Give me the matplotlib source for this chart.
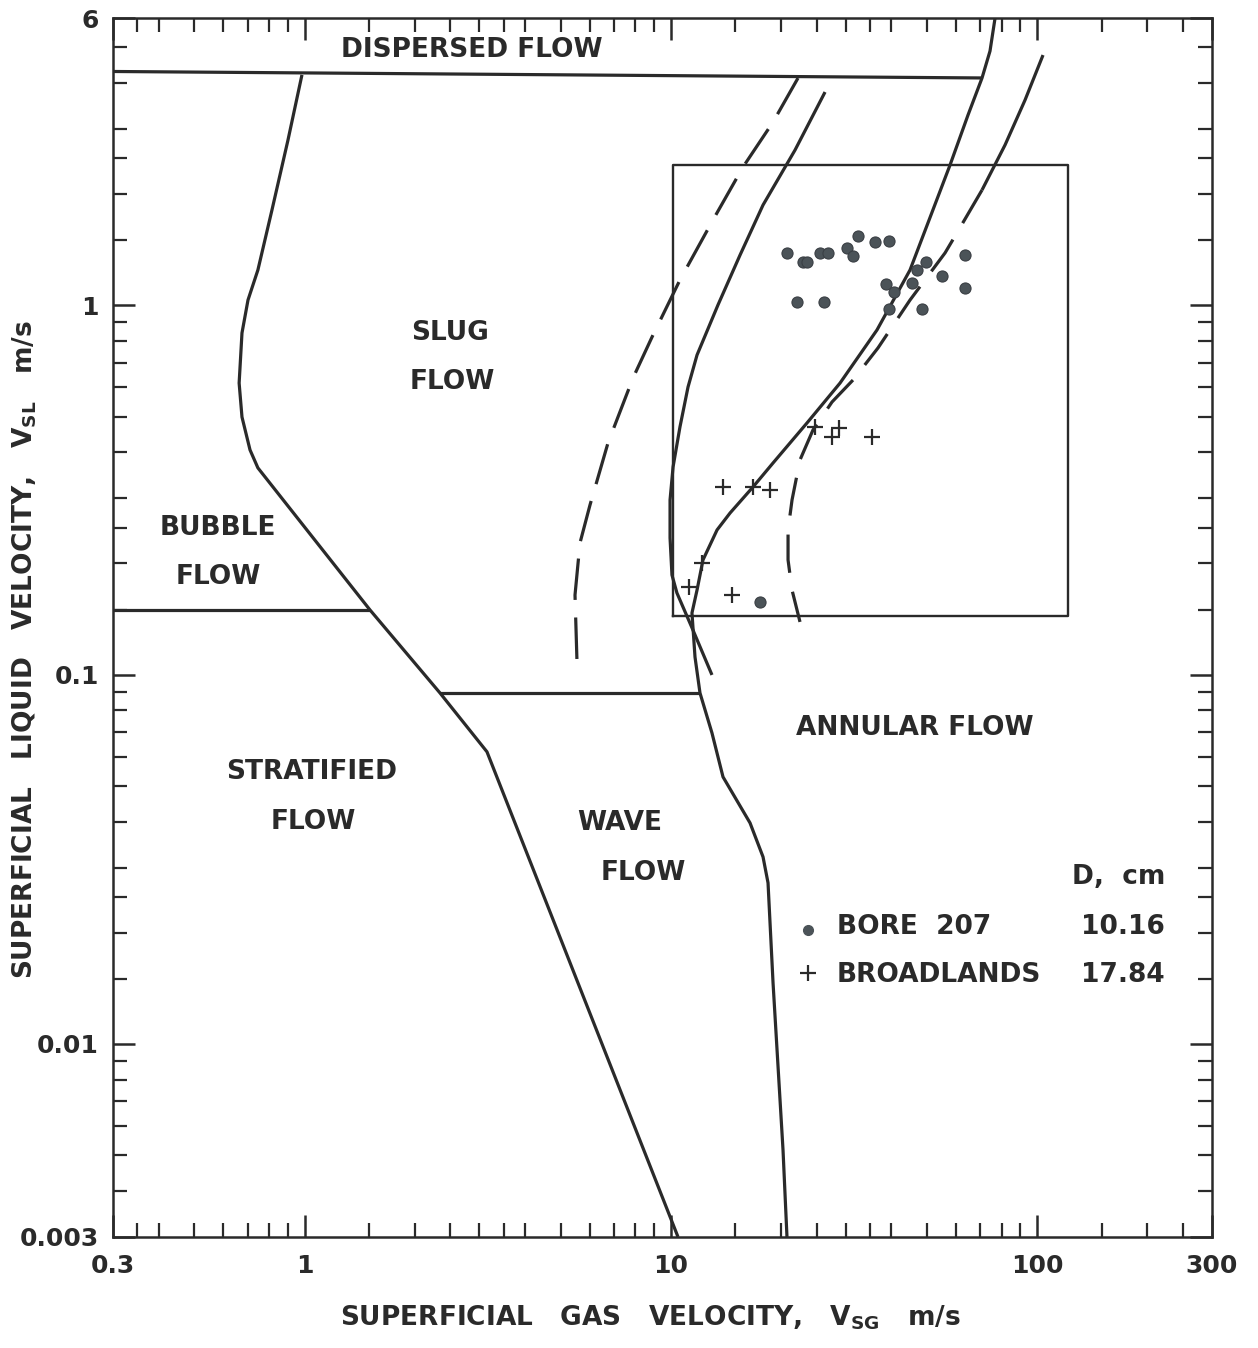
import numpy as np
import matplotlib.pyplot as plt
from matplotlib.ticker import FixedLocator, NullFormatter

# flow pattern boundaries, superficial gas velocity (m/s) vs liquid velocity (m/s)
dispersed_vsg = [0.3, 70.7]
dispersed_vsl = [4.3, 4.13]

bubble_vsg = [0.3, 1.51]
bubble_vsl = [0.15, 0.15]

wave_vsg = [2.34, 12.0]
wave_vsl = [0.089, 0.089]

slug_vsg = [0.984, 0.901, 0.815, 0.746, 0.701, 0.675, 0.663, 0.675, 0.710, 0.746,
            1.509, 2.343, 3.148, 10.46]
slug_vsl = [4.21, 2.80, 1.813, 1.247, 1.034, 0.842, 0.616, 0.4985, 0.406, 0.363,
            0.1497, 0.0892, 0.0618, 0.003]

annular_vsg = [20.75, 20.24, 19.01, 18.42, 17.85, 16.45, 13.88, 12.95, 12.01, 11.64,
               11.42, 11.79, 12.24, 13.37, 14.51, 16.76, 19.01, 23.53, 28.96, 36.54,
               44.97, 57.83, 64.75, 70.70, 74.34, 76.74]
annular_vsl = [0.003, 0.00516, 0.01463, 0.02729, 0.03209, 0.03966, 0.05284, 0.0695,
               0.0892, 0.1116, 0.1469, 0.1695, 0.2045, 0.2465, 0.274, 0.3223, 0.3743,
               0.4803, 0.616, 0.858, 1.247, 2.40, 3.278, 4.128, 4.884, 6.0]

# transition curves for the two well diameters
inner_vsg = [26.36, 21.83, 17.85, 15.45, 13.45, 11.79, 11.14, 10.59, 10.14, 9.95,
             9.95, 10.07, 10.39, 11.49, 12.95]
inner_vsl = [3.783, 2.635, 1.870, 1.369, 1.003, 0.734, 0.601, 0.4686, 0.365, 0.2972,
             0.2345, 0.1862, 0.1664, 0.1321, 0.0998]

outer_dash_vsg = [22.24, 19.01, 15.74, 13.03, 10.59, 8.885, 7.884, 6.736, 6.016,
                  5.649, 5.475, 5.544]
outer_dash_vsl = [4.128, 3.137, 2.370, 1.703, 1.172, 0.821, 0.636, 0.424, 0.288,
                  0.2273, 0.1643, 0.1082]

right_vsg = [103.75, 92.66, 81.71, 70.70, 60.81, 56.04, 44.97, 36.77, 31.43, 27.54,
             24.44, 22.52, 21.42, 20.89, 20.89, 21.42, 22.52]
right_vsl = [4.764, 3.599, 2.719, 2.053, 1.590, 1.387, 1.034, 0.767, 0.628, 0.5475,
             0.46, 0.3814, 0.2972, 0.2465, 0.2045, 0.1695, 0.1389]
right_solid_n = 4  # first points drawn solid, rest dashed

# field data window
window_vsg = [10.14, 121.4]
window_vsl = [0.144, 2.40]

# Bore 207 (D = 10.16 cm)
bore_vsg = [20.75, 22.95, 23.53, 25.54, 26.85, 30.26, 32.43, 31.43, 36.09, 39.41,
            22.10, 26.19, 38.67, 40.66, 39.41, 45.53, 46.99, 49.72, 55.00, 48.49,
            63.56, 63.56, 17.51]
bore_vsl = [1.387, 1.311, 1.311, 1.387, 1.387, 1.430, 1.541, 1.360, 1.484, 1.494,
            1.021, 1.021, 1.143, 1.087, 0.978, 1.150, 1.247, 1.311, 1.201, 0.978,
            1.369, 1.115, 0.1573]

# Broadlands (D = 17.84 cm)
broad_vsg = [24.75, 28.78, 27.54, 35.41, 13.88, 16.76, 18.65, 12.17, 11.21, 14.69]
broad_vsl = [0.4686, 0.4656, 0.440, 0.440, 0.3223, 0.3223, 0.3163, 0.2006, 0.1727,
             0.1643]

xticks = [0.3, 1, 10, 100, 300]
xticklabels = ['0.3', '1', '10', '100', '300']
yticks = [0.003, 0.01, 0.1, 1, 6]
yticklabels = ['0.003', '0.01', '0.1', '1', '6']

ink = '#2a2a2a'
lw = 2.3

fig = plt.figure(figsize=(12.58, 13.48), dpi=100)
ax = fig.add_axes([0.0898, 0.0824, 0.8736, 0.9042])
ax.set_xscale('log')
ax.set_yscale('log')
ax.set_xlim(0.3, 300)
ax.set_ylim(0.003, 6)

line_kw = dict(color=ink, lw=lw, solid_capstyle='butt', solid_joinstyle='round')
ax.plot(dispersed_vsg, dispersed_vsl, **line_kw)
ax.plot(bubble_vsg, bubble_vsl, **line_kw)
ax.plot(wave_vsg, wave_vsl, **line_kw)
ax.plot(slug_vsg, slug_vsl, **line_kw)
ax.plot(annular_vsg, annular_vsl, **line_kw)
ax.plot(inner_vsg, inner_vsl, **line_kw)
ax.plot(outer_dash_vsg, outer_dash_vsl, color=ink, lw=lw, dashes=(13, 5.5))
ax.plot(right_vsg[:right_solid_n], right_vsl[:right_solid_n], **line_kw)
ax.plot(right_vsg[right_solid_n - 1:], right_vsl[right_solid_n - 1:], color=ink, lw=lw,
        dashes=(12, 6))

wx0, wx1 = window_vsg
wy0, wy1 = window_vsl
ax.plot([wx0, wx1, wx1, wx0, wx0], [wy0, wy0, wy1, wy1, wy0], color=ink, lw=1.7)

ax.plot(bore_vsg, bore_vsl, 'o', ms=8, color='#4b5358', mec='#3a3f44', mew=0.8)
ax.plot(broad_vsg, broad_vsl, '+', ms=12, color=ink, mew=1.6)

# axes, ticks
for s in ax.spines.values():
    s.set_linewidth(1.8)
    s.set_color(ink)
ax.xaxis.set_major_locator(FixedLocator(xticks))
ax.set_xticklabels(xticklabels)
ax.yaxis.set_major_locator(FixedLocator(yticks))
ax.set_yticklabels(yticklabels)

mult_x = [1.5, 2, 2.5, 3, 3.5, 4, 5, 6, 7, 8, 9]
mult_y = [1.5, 2, 2.5, 3, 4, 5, 6, 7, 8, 9]
xminor = [d * m for d in [0.1, 1, 10, 100] for m in mult_x if 0.3 < d * m < 300]
yminor = [d * m for d in [0.001, 0.01, 0.1, 1] for m in mult_y if 0.003 < d * m < 6]
ax.xaxis.set_minor_locator(FixedLocator(xminor))
ax.yaxis.set_minor_locator(FixedLocator(yminor))
ax.xaxis.set_minor_formatter(NullFormatter())
ax.yaxis.set_minor_formatter(NullFormatter())
ax.tick_params(which='both', direction='in', top=True, right=True, color=ink,
               labelcolor=ink, labelsize=18)
ax.tick_params(which='major', length=16, width=1.8)
ax.tick_params(which='minor', length=10, width=1.6)
ax.tick_params(axis='x', which='major', pad=12)
ax.tick_params(axis='y', which='major', pad=10)
for lab in ax.get_xticklabels() + ax.get_yticklabels():
    lab.set_fontweight('semibold')

# region names
txt = dict(transform=ax.transAxes, fontsize=19, fontweight='bold', color=ink,
           ha='center', va='center')
ax.text(0.3267, 0.9737, 'DISPERSED FLOW', **txt)
ax.text(0.3066, 0.7416, 'SLUG', **txt)
ax.text(0.3085, 0.7014, 'FLOW', **txt)
ax.text(0.0955, 0.5816, 'BUBBLE', **txt)
ax.text(0.0955, 0.5414, 'FLOW', **txt)
ax.text(0.1811, 0.3815, 'STRATIFIED', **txt)
ax.text(0.1820, 0.3404, 'FLOW', **txt)
ax.text(0.4613, 0.3396, 'WAVE', **txt)
ax.text(0.4823, 0.2986, 'FLOW', **txt)
ax.text(0.7298, 0.4176, 'ANNULAR FLOW', **txt)

# key
ax.plot([0.6324], [0.2518], 'o', ms=7, color='#4b5358', transform=ax.transAxes)
ax.plot([0.6324], [0.2166], '+', ms=12, mew=1.6, color=ink, transform=ax.transAxes)
key = dict(transform=ax.transAxes, fontsize=19, fontweight='bold', color=ink,
           va='center')
ax.text(0.9572, 0.2953, 'D,  cm', ha='right', **key)
ax.text(0.6588, 0.2543, 'BORE  207', ha='left', **key)
ax.text(0.9572, 0.2543, '10.16', ha='right', **key)
ax.text(0.6588, 0.2149, 'BROADLANDS', ha='left', **key)
ax.text(0.9572, 0.2149, '17.84', ha='right', **key)

fig.text(0.5167, 0.0223,
         r'SUPERFICIAL   GAS   VELOCITY,   V$_{\mathbf{SG}}$   m/s',
         ha='center', va='center', fontsize=19, fontweight='bold', color=ink)
fig.text(0.0199, 0.5178,
         r'SUPERFICIAL   LIQUID   VELOCITY,   V$_{\mathbf{SL}}$   m/s',
         ha='center', va='center', rotation=90, fontsize=19, fontweight='bold',
         color=ink)

fig.savefig('out.png', dpi=100)
